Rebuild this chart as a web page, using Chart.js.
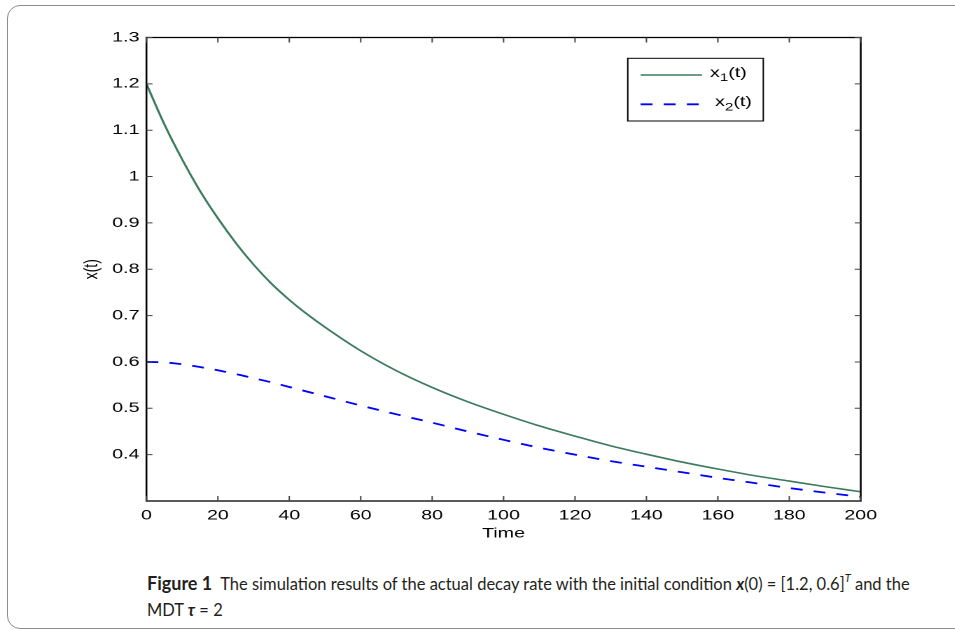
<!DOCTYPE html>
<html>
<head>
<meta charset="utf-8">
<script src="https://cdn.jsdelivr.net/npm/chart.js@4.4.1/dist/chart.umd.min.js"></script>
<style>
  html, body { margin: 0; padding: 0; background: #fff; }
  body { width: 955px; height: 630px; position: relative; overflow: hidden; }
  #frame { position: absolute; left: 7px; top: 5px; width: 1000px; height: 622px;
           border: 1.5px solid #8c8c8c; border-radius: 13px; }
  /* the original figure is stretched sideways, so the chart is too */
  #wrap { position: absolute; left: 0; top: 0; width: 682px; height: 542px;
          transform: scaleX(1.4); transform-origin: 0 0; }
  #caption { position: absolute; left: 147px; top: 570px; font-family: Lato, "Open Sans", sans-serif;
             font-size: 16.5px; line-height: 26px; color: #231f20; white-space: nowrap; }
  #caption b.fig { font-size: 18px; }
  #caption sup { font-size: 11px; vertical-align: 8px; line-height: 0; }
</style>
</head>
<body>
<div id="frame"></div>
<div id="wrap"><canvas id="myChart"></canvas></div>
<div id="caption"><b class="fig">Figure 1</b>&nbsp; The simulation results of the actual decay rate with the initial condition <b><i>x</i></b>(0) = [1.2, 0.6]<sup><i>T</i></sup> and the<br>MDT <b><i>τ</i></b> = 2</div>
<script>
// DADOS
var tempo = [0, 5, 10, 15, 20, 25, 30, 35, 40, 45, 50, 60, 70, 80, 90, 100, 110, 120, 130, 140, 150, 160, 170, 180, 190, 200];
var x1 = [1.200, 1.113, 1.037, 0.969, 0.910, 0.857, 0.810, 0.769, 0.734, 0.703, 0.675, 0.624, 0.581, 0.545, 0.514, 0.487, 0.462, 0.440, 0.419, 0.401, 0.384, 0.369, 0.355, 0.343, 0.331, 0.320];
var x2 = [0.600, 0.599, 0.595, 0.589, 0.582, 0.574, 0.565, 0.556, 0.546, 0.536, 0.526, 0.506, 0.487, 0.469, 0.450, 0.432, 0.415, 0.400, 0.386, 0.374, 0.362, 0.350, 0.339, 0.328, 0.318, 0.309];
var legenda = [['x', '1', '(t)'], ['x', '2', '(t)']];
var yTicks = [0.4, 0.5, 0.6, 0.7, 0.8, 0.9, 1, 1.1, 1.2, 1.3];

function pontos(ys){
    return tempo.map((t, i) => ({x: t, y: ys[i]}));
}

// CAIXA DO GRAFICO E TRACOS PARA DENTRO (ESTILO MATLAB)
const caixa = {
    id: 'caixa',
    afterDatasetsDraw(chart){
        const {ctx, chartArea: a, scales: {x, y}} = chart;
        ctx.save();
        ctx.strokeStyle = '#000';
        ctx.lineWidth = 1.3;
        ctx.strokeRect(a.left, a.top, a.right - a.left, a.bottom - a.top);
        ctx.strokeStyle = '#444';
        ctx.lineWidth = 1;
        ctx.beginPath();
        x.ticks.forEach(t => {
            const px = x.getPixelForValue(t.value);
            ctx.moveTo(px, a.bottom); ctx.lineTo(px, a.bottom - 5);
            ctx.moveTo(px, a.top); ctx.lineTo(px, a.top + 5);
        });
        y.ticks.forEach(t => {
            const py = y.getPixelForValue(t.value);
            ctx.moveTo(a.left, py); ctx.lineTo(a.left + 4.3, py);
            ctx.moveTo(a.right, py); ctx.lineTo(a.right - 4.3, py);
        });
        ctx.stroke();
        ctx.restore();
    }
};

// LEGENDA COM INDICE (x1, x2)
const legendaBox = {
    id: 'legendaBox',
    afterDraw(chart){
        const ctx = chart.ctx;
        const a = chart.chartArea;
        const left = a.left + 343.8, top = a.top + 20.8, w = 96.8, h = 62.7;
        ctx.save();
        ctx.fillStyle = '#fff';
        ctx.fillRect(left, top, w, h);
        ctx.strokeStyle = '#000';
        ctx.lineWidth = 1;
        ctx.strokeRect(left, top, w, h);
        chart.data.datasets.forEach((ds, i) => {
            const yy = top + 16.7 + i * 29.3;
            ctx.strokeStyle = ds.borderColor;
            ctx.lineWidth = ds.borderWidth;
            ctx.setLineDash(ds.borderDash || []);
            ctx.beginPath();
            ctx.moveTo(left + 9.2, yy); ctx.lineTo(left + 53, yy);
            ctx.stroke();
            ctx.setLineDash([]);
            const p = legenda[i];
            let tx = left + (i == 0 ? 58.7 : 62.3);
            ctx.fillStyle = '#000';
            ctx.textBaseline = 'middle';
            ctx.font = '14px "Liberation Sans", Arial, sans-serif';
            ctx.fillText(p[0], tx, yy - 2);
            tx += ctx.measureText(p[0]).width;
            ctx.font = '11px "Liberation Sans", Arial, sans-serif';
            ctx.fillText(p[1], tx, yy + 3);
            tx += ctx.measureText(p[1]).width;
            ctx.font = '14px "Liberation Sans", Arial, sans-serif';
            ctx.fillText(p[2], tx, yy - 2);
        });
        ctx.restore();
    }
};

const fonte = {family: '"Liberation Sans", Arial, sans-serif', size: 14};
const ctx = document.getElementById('myChart').getContext('2d');
const myChart = new Chart(ctx, {
    type: 'line',
    data: {
        datasets: [{
            label: 'x1(t)',
            data: pontos(x1),
            borderColor: '#3b7a5d',
            borderWidth: 1.6,
            pointRadius: 0,
            cubicInterpolationMode: 'monotone'
        }, {
            label: 'x2(t)',
            data: pontos(x2),
            borderColor: '#0000ff',
            borderWidth: 1.8,
            borderDash: [8.5, 8],
            pointRadius: 0,
            cubicInterpolationMode: 'monotone'
        }]
    },
    options: {
        responsive: true,
        maintainAspectRatio: false,
        animation: false,
        devicePixelRatio: 2,
        layout: {padding: {left: 57, right: 67.2, top: 37.5, bottom: 0}},
        plugins: {
            legend: {display: false},
            tooltip: {enabled: false}
        },
        scales: {
            x: {
                type: 'linear',
                min: 0,
                max: 200,
                afterFit: (s) => { s.height = 41; },
                ticks: {stepSize: 20, color: '#000', font: fonte, padding: 6, maxRotation: 0},
                grid: {display: false, drawTicks: false},
                border: {display: false},
                title: {display: true, text: 'Time', color: '#000', font: fonte, padding: 0}
            },
            y: {
                min: 0.3,
                max: 1.3,
                afterFit: (s) => { s.width = 47.6; },
                afterBuildTicks: (s) => { s.ticks = yTicks.map(v => ({value: v})); },
                ticks: {
                    color: '#000', font: fonte, padding: 5,
                    callback: (v) => String(+v.toFixed(1))
                },
                grid: {display: false, drawTicks: false},
                border: {display: false},
                title: {display: true, text: 'x(t)', color: '#000', font: fonte, padding: 0}
            }
        }
    },
    plugins: [caixa, legendaBox]
});
</script>
</body>
</html>
